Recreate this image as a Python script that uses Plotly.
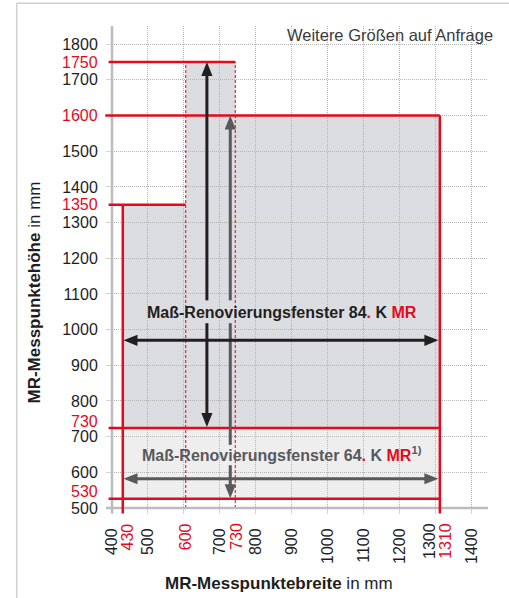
import plotly.graph_objects as go

# ---------------- data ----------------
x_tick_vals = [400, 500, 600, 700, 800, 900, 1000, 1100, 1200, 1300, 1400]
x_tick_text = ["400", "500", "", "700", "800", "900", "1000", "1100", "1200", "", "1400"]
y_tick_vals = [500, 600, 700, 800, 900, 1000, 1100, 1200, 1300, 1400, 1500, 1600, 1700, 1800]
y_tick_text = ["500", "600", "700", "800", "900", "1000", "1100", "1200", "1300", "1400", "1500", "", "1700", "1800"]

# window limits as drawn (mm) and their labels
win_widths = [430, 605, 743, 1312]
win_width_labels = ["430", "600", "730", "1310"]
win_heights = [526, 724, 1350, 1600, 1750]
win_height_labels = ["530", "730", "1350", "1600", "1750"]

# arrows (mm)
arr84_h_y = 970
arr84_h_x = [432, 1308]
arr84_v_x = 664
arr84_v_y = [727, 1750]
arr84_v_gaps = [[1018, 1082]]
arr64_h_y = 582
arr64_h_x = [432, 1308]
arr64_v_x = 729
arr64_v_y = [527, 1600]
arr64_v_gaps = [[620, 677], [1018, 1082]]

label84_pos = [872, 1049]
label64_pos = [872, 652]

# ---------------- layout constants ----------------
W, H = 509, 598
M = dict(l=112, r=21, t=26, b=90)
X_RANGE = [400, 1446]
Y_RANGE = [500, 1851]
PW = W - M["l"] - M["r"]
PH = H - M["t"] - M["b"]
UX = (X_RANGE[1] - X_RANGE[0]) / PW   # mm per px
UY = (Y_RANGE[1] - Y_RANGE[0]) / PH

RED = "#e30a1e"
BLACK = "#231f20"
GREY = "#58595b"
DARK_FILL = "#dcdde0"
LIGHT_FILL = "#eeeeef"
AXIS_GREY = "#bcbdc0"
TEXT = "#1e1e1e"
FONT = "Liberation Sans, Arial, sans-serif"


def xp(v):
    return (v - X_RANGE[0]) / (X_RANGE[1] - X_RANGE[0])


def yp(v):
    return (v - Y_RANGE[0]) / (Y_RANGE[1] - Y_RANGE[0])


shapes = []

# filled regions
w0, w1, w2, w3 = win_widths
h0, h1, h2, h3, h4 = win_heights
shapes.append(dict(type="rect", xref="x", yref="y", x0=w0, x1=w3, y0=h0, y1=h1,
                   fillcolor=LIGHT_FILL, line=dict(width=0), layer="below"))
poly = [(w0, h1), (w0, h2), (w1, h2), (w1, h4), (w2, h4), (w2, h3), (w3, h3), (w3, h1)]
path = "M " + " L ".join(f"{a},{b}" for a, b in poly) + " Z"
shapes.append(dict(type="path", xref="x", yref="y", path=path,
                   fillcolor=DARK_FILL, line=dict(width=0), layer="below"))

# dashed red verticals
for w in (w1, w2):
    shapes.append(dict(type="line", xref="x", yref="y", x0=w, x1=w, y0=Y_RANGE[0], y1=h4,
                       line=dict(color=RED, width=1.2, dash="3px,2px"), opacity=0.85))

# axis lines (extend a few px beyond the crossing)
shapes.append(dict(type="line", xref="paper", yref="paper", x0=0, x1=0, y0=-5.5 / PH, y1=1,
                   line=dict(color=AXIS_GREY, width=2.5)))
shapes.append(dict(type="line", xref="paper", yref="paper", x0=-6 / PW, x1=1, y0=0, y1=0,
                   line=dict(color=AXIS_GREY, width=2.5)))

# red horizontal limits
ext_left = [3.4, 3.4, 3.4, 6.7, 3.4]  # px left of axis
right_end = [w3, w3, w1, w3, w2]
for h, e, r in zip(win_heights, ext_left, right_end):
    shapes.append(dict(type="line", xref="paper", yref="y", x0=-e / PW, x1=xp(r), y0=h, y1=h,
                       line=dict(color=RED, width=2.5)))
# red vertical limits
for w, top in ((w0, h2), (w3, h3)):
    shapes.append(dict(type="line", xref="x", yref="paper", x0=w, x1=w, y0=-5.5 / PH, y1=yp(top),
                       line=dict(color=RED, width=2.5)))

HEAD_LEN = 14.0
HEAD_HALF = 5.6
LW = 3


def segments(a, b, gaps):
    segs = []
    cur = a
    for g0, g1 in gaps:
        segs.append((cur, g0))
        cur = g1
    segs.append((cur, b))
    return segs


def double_arrow(orient, c, a, b, color, gaps=()):
    if orient == "h":
        la, hw = HEAD_LEN * UX, HEAD_HALF * UY
        for s0, s1 in segments(a + la * 0.6, b - la * 0.6, gaps):
            shapes.append(dict(type="line", xref="x", yref="y", x0=s0, x1=s1, y0=c, y1=c,
                               line=dict(color=color, width=LW)))
        for tip, base in ((a, a + la), (b, b - la)):
            p = f"M {tip},{c} L {base},{c + hw} L {base},{c - hw} Z"
            shapes.append(dict(type="path", xref="x", yref="y", path=p, fillcolor=color,
                               line=dict(width=0)))
    else:
        la, hw = HEAD_LEN * UY, HEAD_HALF * UX
        for s0, s1 in segments(a + la * 0.6, b - la * 0.6, gaps):
            shapes.append(dict(type="line", xref="x", yref="y", x0=c, x1=c, y0=s0, y1=s1,
                               line=dict(color=color, width=LW)))
        for tip, base in ((a, a + la), (b, b - la)):
            p = f"M {c},{tip} L {c + hw},{base} L {c - hw},{base} Z"
            shapes.append(dict(type="path", xref="x", yref="y", path=p, fillcolor=color,
                               line=dict(width=0)))


double_arrow("v", arr64_v_x, arr64_v_y[0], arr64_v_y[1], GREY, arr64_v_gaps)
double_arrow("h", arr64_h_y, arr64_h_x[0], arr64_h_x[1], GREY)
double_arrow("v", arr84_v_x, arr84_v_y[0], arr84_v_y[1], BLACK, arr84_v_gaps)
double_arrow("h", arr84_h_y, arr84_h_x[0], arr84_h_x[1], BLACK)

# outer frame (left + top border)
fx = (16.7 - M["l"]) / PW
fy = (H - M["b"] - 3.3) / PH
shapes.append(dict(type="line", xref="paper", yref="paper", x0=fx, x1=fx, y0=fy, y1=-1,
                   line=dict(color="#cfcfcf", width=1.5)))
shapes.append(dict(type="line", xref="paper", yref="paper", x0=fx, x1=2, y0=fy, y1=fy,
                   line=dict(color="#cfcfcf", width=1.5)))

annotations = []
# red y labels
y_label_shift = [7.4, 7.0, 0, 0, 0]
for h, t, s in zip(win_heights, win_height_labels, y_label_shift):
    annotations.append(dict(xref="paper", yref="y", x=0, y=h, xanchor="right", yanchor="middle",
                            xshift=-12.5, yshift=s, text=t, showarrow=False,
                            font=dict(family=FONT, size=16, color=RED)))
# red x labels
x_label_shift = [5.2, 0, 1, 5]
for w, t, s in zip(win_widths, win_width_labels, x_label_shift):
    annotations.append(dict(xref="x", yref="paper", x=w, y=0, xanchor="center", yanchor="top",
                            xshift=s, yshift=-13, text=t, textangle=-90, showarrow=False,
                            font=dict(family=FONT, size=16, color=RED)))
# 1300 label, nudged left to make room for 1310
annotations.append(dict(xref="x", yref="paper", x=1300, y=0, xanchor="center", yanchor="top",
                        xshift=-6.5, yshift=-13, text="1300", textangle=-90, showarrow=False,
                        font=dict(family=FONT, size=16, color=TEXT)))

red_dot = f"<span style='color:{RED}'>.</span>"
red_mr = f"<span style='color:{RED}'>MR</span>"
annotations.append(dict(xref="x", yref="y", x=label84_pos[0], y=label84_pos[1],
                        text=f"<b>Maß-Renovierungsfenster 84{red_dot} K {red_mr}</b>",
                        showarrow=False, font=dict(family=FONT, size=16, color=BLACK)))
annotations.append(dict(xref="x", yref="y", x=label64_pos[0], y=label64_pos[1],
                        text=f"<b>Maß-Renovierungsfenster 64{red_dot} K {red_mr}<sup>1)</sup></b>",
                        showarrow=False, font=dict(family=FONT, size=16, color=GREY)))

annotations.append(dict(xref="paper", yref="paper", x=1, y=1, xanchor="right", yanchor="middle",
                        xshift=6.5, yshift=-9, text="Weitere Größen auf Anfrage", showarrow=False,
                        font=dict(family=FONT, size=16.5, color="#3a3a3a")))

# axis titles
annotations.append(dict(xref="paper", yref="paper", x=(34 - M["l"]) / PW, y=(H - M["b"] - 292.5) / PH,
                        xanchor="center", yanchor="middle", textangle=-90, showarrow=False,
                        text="<b>MR-Messpunktehöhe</b> in mm",
                        font=dict(family=FONT, size=17, color=TEXT)))
annotations.append(dict(xref="paper", yref="paper", x=(279.3 - M["l"]) / PW, y=(H - M["b"] - 583) / PH,
                        xanchor="center", yanchor="middle", showarrow=False,
                        text="<b>MR-Messpunktebreite</b> in mm",
                        font=dict(family=FONT, size=17, color=TEXT)))

fig = go.Figure()
fig.add_trace(go.Scatter(x=[None], y=[None], showlegend=False, hoverinfo="skip"))

axis_common = dict(showgrid=True, gridcolor="#b4b4b4", griddash="1px,1px", gridwidth=1,
                   ticks="outside", ticklen=5, tickcolor="#d4d4d4", tickwidth=1,
                   showline=False, zeroline=False,
                   tickfont=dict(family=FONT, size=16, color=TEXT))

fig.update_layout(
    width=W, height=H, margin=M,
    paper_bgcolor="white", plot_bgcolor="white",
    showlegend=False,
    xaxis=dict(range=X_RANGE, tickmode="array", tickvals=x_tick_vals, ticktext=x_tick_text,
               tickangle=-90, ticklabelstandoff=8, **axis_common),
    yaxis=dict(range=Y_RANGE, tickmode="array", tickvals=y_tick_vals, ticktext=y_tick_text,
               ticklabelstandoff=5, **axis_common),
    shapes=shapes,
    annotations=annotations,
)

fig.write_html("out.html", config={"displayModeBar": False},
               post_script="document.body.style.margin='0';document.body.style.overflow='hidden';")
